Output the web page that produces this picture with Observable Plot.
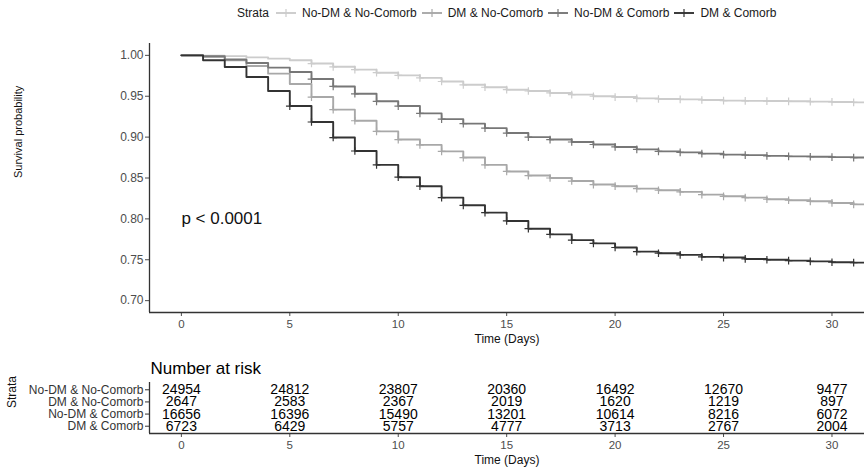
<!DOCTYPE html>
<html>
<head>
<meta charset="utf-8">
<script src="https://cdn.jsdelivr.net/npm/d3@7"></script>
<script src="https://cdn.jsdelivr.net/npm/@observablehq/plot@0.6"></script>
<style>
  body { margin: 0; background: #fff; font-family: "Liberation Sans", Arial, sans-serif; }
  #wrap { position: relative; width: 864px; height: 469px; overflow: hidden; background: #fff; }
  #wrap > svg, #wrap > figure { position: absolute; left: 0; margin: 0; }
  #legend { position: absolute; top: 6px; left: 237px; display: flex; align-items: center;
            font-size: 12px; color: #1a1a1a; white-space: nowrap; }
  #legend svg { display: block; }
</style>
</head>
<body>
<div id="wrap"></div>
<script>
// ---------- data ----------
const strata = ["No-DM & No-Comorb", "DM & No-Comorb", "No-DM & Comorb", "DM & Comorb"];
const colors = ["#cccccc", "#a8a8a8", "#777777", "#333333"];

const days = [0,1,2,3,4,5,6,7,8,9,10,11,12,13,14,15,16,17,18,19,20,21,22,23,24,25,26,27,28,29,30,31];

const survNoDMNoComorb = [1.000,0.9995,0.999,0.9975,0.996,0.994,0.990,0.986,0.9825,0.9788,0.9755,0.9725,0.968,0.964,0.961,0.958,0.9564,0.954,0.952,0.950,0.949,0.9474,0.9466,0.9462,0.9454,0.9446,0.9443,0.9441,0.9438,0.9434,0.943,0.9425];
const survDMNoComorb   = [1.000,0.998,0.994,0.987,0.9776,0.965,0.949,0.9336,0.920,0.907,0.897,0.8905,0.8826,0.875,0.866,0.858,0.853,0.850,0.8463,0.842,0.840,0.837,0.835,0.833,0.8297,0.8276,0.826,0.824,0.8228,0.8215,0.8195,0.8178];
const survNoDMComorb   = [1.000,0.999,0.995,0.9906,0.985,0.9796,0.971,0.962,0.953,0.9438,0.938,0.929,0.922,0.9165,0.911,0.905,0.900,0.897,0.894,0.891,0.888,0.885,0.8826,0.8814,0.8798,0.8786,0.878,0.877,0.8765,0.876,0.8755,0.875];
const survDMComorb     = [1.000,0.994,0.9857,0.9735,0.9564,0.938,0.9185,0.8995,0.883,0.866,0.851,0.840,0.826,0.8166,0.8077,0.7975,0.788,0.781,0.774,0.770,0.765,0.760,0.758,0.756,0.7535,0.7527,0.751,0.750,0.749,0.748,0.747,0.7465];
const censorFromDay = [6, 6, 6, 5];

const riskTimes = [0, 5, 10, 15, 20, 25, 30];
const riskNoDMNoComorb = [24954, 24812, 23807, 20360, 16492, 12670, 9477];
const riskDMNoComorb   = [2647, 2583, 2367, 2019, 1620, 1219, 897];
const riskNoDMComorb   = [16656, 16396, 15490, 13201, 10614, 8216, 6072];
const riskDMComorb     = [6723, 6429, 5757, 4777, 3713, 2767, 2004];

const yTicks = [0.70, 0.75, 0.80, 0.85, 0.90, 0.95, 1.00];
const xTicks = [0, 5, 10, 15, 20, 25, 30];
const pLabel = "p < 0.0001";
const pPos = {time: 0, surv: 0.80};

// ---------- derived tables ----------
const xDomain = [-1.47, 31.5];
const yDomain = [0.6855, 1.0145];
const survSeries = [survNoDMNoComorb, survDMNoComorb, survNoDMComorb, survDMComorb];
const riskSeries = [riskNoDMNoComorb, riskDMNoComorb, riskNoDMComorb, riskDMComorb];

const survData = [];
const censorData = [];
survSeries.forEach((vals, i) => {
  days.forEach((d, j) => {
    survData.push({time: d, surv: vals[j], strata: strata[i]});
    if (d >= censorFromDay[i]) censorData.push({time: d, surv: vals[j], strata: strata[i]});
  });
  survData.push({time: xDomain[1], surv: vals[vals.length - 1], strata: strata[i]});
});
const riskData = [];
riskSeries.forEach((vals, i) => {
  riskTimes.forEach((t, j) => riskData.push({time: t, row: i + 1, n: String(vals[j]), strata: strata[i]}));
});

const font = "Liberation Sans, Arial, sans-serif";
const wrap = document.getElementById("wrap");

// ---------- main survival plot ----------
const main = Plot.plot({
  width: 864, height: 345,
  marginLeft: 149, marginRight: 0, marginTop: 43, marginBottom: 33,
  style: {fontFamily: font, background: "transparent", overflow: "visible"},
  x: {domain: xDomain},
  y: {domain: yDomain},
  color: {domain: strata, range: colors},
  marks: [
    Plot.axisY(yTicks, {tickFormat: d3.format(".2f"), tickSize: 4, tickPadding: 2, fontSize: 12, color: "#4d4d4d", label: null}),
    Plot.axisX(xTicks, {tickSize: 4, tickPadding: 3, fontSize: 11.5, color: "#4d4d4d", label: null}),
    Plot.ruleX([xDomain[0]], {stroke: "#333", strokeWidth: 1.3}),
    Plot.ruleY([yDomain[0]], {stroke: "#333", strokeWidth: 1.3}),
    Plot.line(survData, {x: "time", y: "surv", z: "strata", stroke: "strata", curve: "step-after", strokeWidth: 1.9}),
    Plot.dot(censorData, {x: "time", y: "surv", stroke: "strata", symbol: "plus", r: 2.6, strokeWidth: 1.2}),
    Plot.text([pLabel], {x: () => pPos.time, y: () => pPos.surv, textAnchor: "start", fontSize: 17, fill: "#111"}),
    Plot.text(["Survival probability"], {frameAnchor: "left", dx: -131, rotate: -90, fontSize: 11, fill: "#111"}),
    Plot.text(["Time (Days)"], {frameAnchor: "bottom", dy: 27, lineAnchor: "middle", fontSize: 12, fill: "#111"})
  ]
});
main.style.top = "0px";
wrap.appendChild(main);

// ---------- risk table ----------
const risk = Plot.plot({
  width: 864, height: 114,
  marginLeft: 149, marginRight: 0, marginTop: 27, marginBottom: 36,
  style: {fontFamily: font, background: "transparent", overflow: "visible"},
  x: {domain: xDomain},
  y: {domain: [4.6, 0.4]},
  marks: [
    Plot.axisY([1, 2, 3, 4], {tickFormat: i => strata[i - 1], tickSize: 4, tickPadding: 2, fontSize: 12, color: "#333", label: null}),
    Plot.axisX(xTicks, {tickSize: 4, tickPadding: 3, fontSize: 11.5, color: "#4d4d4d", label: null}),
    Plot.ruleX([xDomain[0]], {stroke: "#333", strokeWidth: 1.3}),
    Plot.ruleY([4.6], {stroke: "#333", strokeWidth: 1.3}),
    Plot.text(riskData, {x: "time", y: "row", text: "n", fontSize: 14, fill: "#000"}),
    Plot.text(["Number at risk"], {frameAnchor: "top-left", dx: 1, dy: -14, lineAnchor: "middle", textAnchor: "start", fontSize: 17, fill: "#000"}),
    Plot.text(["Time (Days)"], {frameAnchor: "bottom", dy: 27, lineAnchor: "middle", fontSize: 12, fill: "#111"}),
    Plot.text(["Strata"], {frameAnchor: "left", dx: -137, rotate: -90, fontSize: 12, fill: "#111"})
  ]
});
risk.style.top = "355px";
wrap.appendChild(risk);

// ---------- legend ----------
const legend = document.createElement("div");
legend.id = "legend";
const title = document.createElement("span");
title.textContent = "Strata";
title.style.marginRight = "6px";
legend.appendChild(title);
const ns = "http://www.w3.org/2000/svg";
strata.forEach((s, i) => {
  const sw = document.createElementNS(ns, "svg");
  sw.setAttribute("width", "22");
  sw.setAttribute("height", "12");
  const mk = (x1, y1, x2, y2, w) => {
    const l = document.createElementNS(ns, "line");
    l.setAttribute("x1", x1); l.setAttribute("y1", y1);
    l.setAttribute("x2", x2); l.setAttribute("y2", y2);
    l.setAttribute("stroke", colors[i]); l.setAttribute("stroke-width", w);
    sw.appendChild(l);
  };
  mk(1, 6, 21, 6, 1.9);
  mk(11, 2, 11, 10, 1.2);
  legend.appendChild(sw);
  const lab = document.createElement("span");
  lab.textContent = s;
  lab.style.margin = "0 4px 0 5px";
  legend.appendChild(lab);
});
wrap.appendChild(legend);
</script>
</body>
</html>
